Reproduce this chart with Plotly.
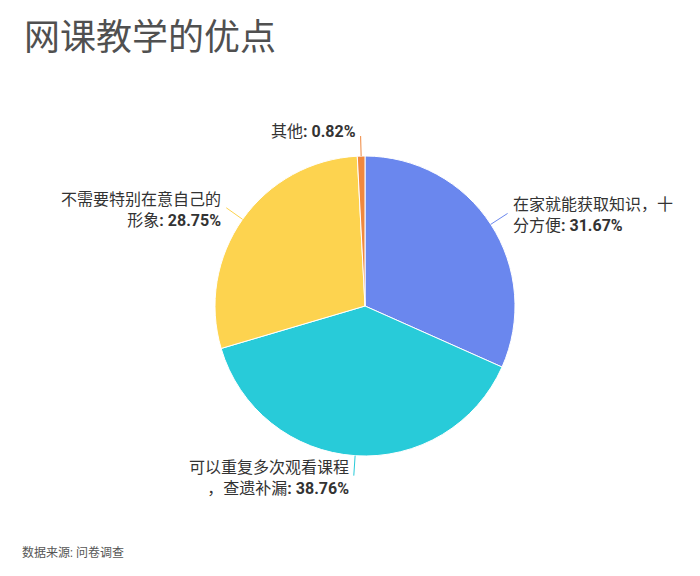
import math
import plotly.graph_objects as go

# -----------------------------------
# Data
# -----------------------------------

labels = [
    "在家就能获取知识，十分方便",
    "可以重复多次观看课程，查遗补漏",
    "不需要特别在意自己的形象",
    "其他",
]
values = [31.67, 38.76, 28.75, 0.82]
colors = ["#6a87ee", "#28cbd9", "#fdd34f", "#f0883e"]

title_text = "网课教学的优点"
source_text = "数据来源: 问卷调查"

W, H = 700, 576
OFF = 8  # page body margin of the html page
cx, cy, r = 365 - OFF, 306 - OFF, 150  # pie centre / radius in px
font = "Roboto, Noto Sans CJK SC, sans-serif"


def px(x, y):
    return x / W, 1 - y / H


fig = go.Figure(
    go.Pie(
        labels=labels,
        values=values,
        sort=False,
        direction="clockwise",
        rotation=0,
        marker=dict(colors=colors, line=dict(color="white", width=1)),
        textinfo="none",
        hoverinfo="label+percent",
        domain=dict(
            x=[(cx - r) / W, (cx + r) / W],
            y=[1 - (cy + r) / H, 1 - (cy - r) / H],
        ),
        showlegend=False,
    )
)

# -----------------------------------
# Outside labels with leader lines
# -----------------------------------

shapes = []
annotations = []
total = sum(values)
acc = 0

for name, val, col in zip(labels, values, colors):
    mid = (acc + val / 2) / total * 2 * math.pi
    acc += val
    s, c = math.sin(mid), math.cos(mid)
    x0, y0 = cx + r * s, cy - r * c
    x1, y1 = cx + (r + 20) * s, cy - (r + 20) * c

    ax0, ay0 = px(x0, y0)
    ax1, ay1 = px(x1, y1)
    shapes.append(dict(
        type="line", xref="paper", yref="paper",
        x0=ax0, y0=ay0, x1=ax1, y1=ay1,
        line=dict(color=col, width=1),
    ))

    chunks = [name[i:i + 10] for i in range(0, len(name), 10)]
    chunks[-1] = chunks[-1] + f"<b>: {val:.2f}%</b>"
    right = s >= 0
    tx = x1 + 3 if right else x1 - 3
    ty = y1 + (2 if len(chunks) > 1 else -5)
    ax, ay = px(tx, ty)
    annotations.append(dict(
        text="<br>".join(chunks), xref="paper", yref="paper", x=ax, y=ay,
        xanchor="left" if right else "right", yanchor="middle",
        align="left" if right else "right",
        showarrow=False,
        font=dict(family=font, size=16, color="#333333"),
    ))

# title and source
annotations.append(dict(
    text=title_text, xref="paper", yref="paper", x=(22 - OFF) / W,
    y=1 - (38 - OFF) / H,
    xanchor="left", yanchor="middle", showarrow=False,
    font=dict(family=font, size=36, color="#505050"),
))
annotations.append(dict(
    text=source_text, xref="paper", yref="paper", x=(20 - OFF) / W,
    y=1 - (552 - OFF) / H,
    xanchor="left", yanchor="middle", showarrow=False,
    font=dict(family=font, size=12, color="#555555"),
))

fig.update_layout(
    width=W,
    height=H,
    margin=dict(l=0, r=0, t=0, b=0),
    paper_bgcolor="white",
    plot_bgcolor="white",
    shapes=shapes,
    annotations=annotations,
    font=dict(family=font),
)

fig.write_html("out.html")
